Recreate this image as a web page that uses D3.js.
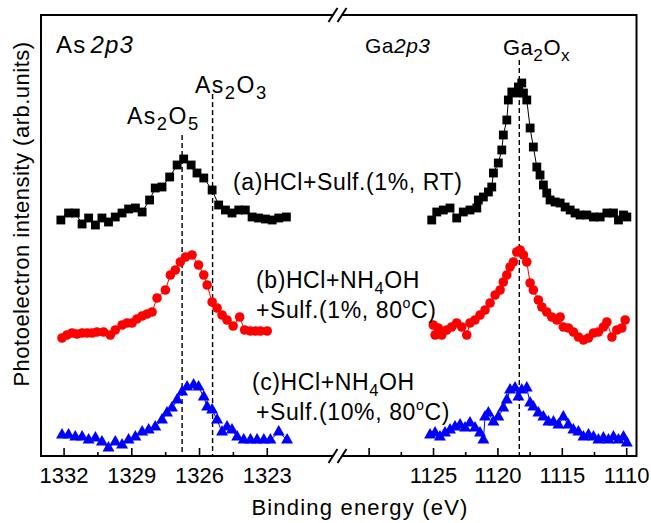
<!DOCTYPE html>
<html>
<head>
<meta charset="utf-8">
<script src="https://cdn.jsdelivr.net/npm/d3@7"></script>
<style>
  body { margin: 0; background: #fff; }
  svg { display: block; }
  text { font-family: "Liberation Sans", Arial, Helvetica, sans-serif; fill: #000; }
</style>
</head>
<body>
<svg id="chart" width="651" height="523"></svg>
<script>
// ---- As 2p3 region: binding energy (eV) and photoelectron intensity (arb. units) ----
const asEnergyA = [1332.12,1331.78,1331.48,1331.18,1330.89,1330.59,1330.30,1330.01,1329.71,1329.41,1329.12,1328.82,1328.52,1328.19,1327.94,1327.64,1327.30,1326.97,1326.68,1326.35,1326.09,1325.79,1325.42,1325.13,1324.83,1324.54,1324.24,1323.95,1323.65,1323.36,1323.06,1322.76,1322.47,1322.13];
const asIntensityA = [236,243,243,232,238,231,238,234,239,243,247,248,244,256,268,269,279,291,297,291,283,278,266,251,246,243,246,246,239,238,237,236,238,239];

const asEnergyB = [1332.07,1331.85,1331.63,1331.41,1331.18,1330.96,1330.74,1330.52,1330.23,1329.93,1329.71,1329.41,1329.19,1328.97,1328.75,1328.52,1328.30,1328.08,1327.86,1327.49,1327.27,1327.05,1326.83,1326.60,1326.31,1326.02,1325.79,1325.64,1325.42,1325.20,1324.98,1324.76,1324.49,1324.20,1323.98,1323.72,1323.50,1323.28,1322.98];
const asIntensityB = [118,121,123,122,123,123,123,124,124,121,126,131,133,133,137,140,142,144,158,166,181,186,194,199,201,191,181,171,154,148,141,136,130,139,126,125,125,125,125];

const asEnergyC = [1332.07,1331.78,1331.48,1331.18,1330.89,1330.59,1330.30,1330.01,1329.71,1329.41,1329.12,1328.82,1328.52,1328.23,1327.94,1327.64,1327.42,1327.20,1326.97,1326.75,1326.53,1326.24,1326.02,1325.79,1325.64,1325.42,1325.20,1324.98,1324.76,1324.54,1324.31,1324.02,1323.72,1323.43,1323.13,1322.84,1322.47,1322.10];
const asIntensityC = [21,21,19,19,16,18,14,8,14,11,16,19,24,26,29,36,43,48,56,64,69,71,69,59,49,46,36,24,29,26,19,16,16,16,16,16,24,16];

// ---- Ga 2p3 region ----
const gaEnergyA = [1125.10,1124.71,1124.20,1123.68,1123.16,1122.65,1122.13,1121.60,1121.48,1121.09,1120.70,1120.44,1120.31,1119.93,1119.66,1119.54,1119.27,1119.15,1118.88,1118.50,1118.37,1118.11,1117.98,1117.72,1117.46,1117.21,1116.94,1116.69,1116.43,1116.17,1115.91,1115.52,1115.13,1114.74,1114.35,1113.97,1113.58,1113.06,1112.54,1112.02,1111.50,1110.99,1110.60,1110.21,1109.95];
const gaIntensityA = [236,244,246,248,238,244,246,248,256,259,264,269,283,293,306,321,336,356,364,363,369,373,363,356,328,309,289,281,271,263,256,254,253,249,246,243,241,241,239,239,243,243,236,241,239];

const gaEnergyB = [1124.98,1124.84,1124.59,1124.32,1123.94,1123.55,1123.16,1122.77,1122.38,1122.13,1121.74,1121.35,1120.96,1120.57,1120.18,1119.79,1119.54,1119.27,1119.02,1118.76,1118.50,1118.24,1117.98,1117.72,1117.46,1117.21,1116.82,1116.55,1116.17,1115.78,1115.39,1115.13,1114.88,1114.49,1114.10,1113.71,1113.32,1112.93,1112.54,1112.16,1111.77,1111.50,1111.11,1110.73,1110.34,1110.08];
const gaIntensityB = [131,121,128,121,126,129,133,129,121,133,136,141,146,153,161,166,174,181,189,194,204,206,201,194,173,166,156,149,144,139,136,139,129,128,124,119,116,118,123,124,129,134,119,126,128,136];

const gaEnergyC = [1125.23,1124.84,1124.46,1124.07,1123.68,1123.29,1122.90,1122.51,1122.13,1121.74,1121.35,1121.09,1120.96,1120.70,1120.31,1119.93,1119.54,1119.27,1119.02,1118.63,1118.37,1118.11,1117.72,1117.46,1117.21,1116.82,1116.43,1116.04,1115.65,1115.26,1114.88,1114.49,1114.10,1113.71,1113.32,1112.93,1112.54,1112.16,1111.77,1111.38,1110.99,1110.60,1110.21,1109.95];
const gaIntensityC = [21,23,19,23,26,29,31,28,33,28,23,16,39,43,34,39,48,56,66,68,59,66,68,53,49,43,39,34,34,31,39,31,26,24,19,21,19,16,18,16,19,16,19,13];

// Chemical-state reference energies (eV)
const refNames = ["As2O5", "As2O3", "Ga2Ox"];
const refEnergies = [1326.75, 1325.4, 1118.3];

// Axis ticks
const asMajorTicks = [1332, 1329, 1326, 1323];
const asMinorTicks = [1330.5, 1327.5, 1324.5];
const gaMajorTicks = [1130, 1125, 1120, 1115, 1110];
const gaLabelledTicks = [1125, 1120, 1115, 1110];
const gaMinorTicks = [1127.5, 1122.5, 1117.5, 1112.5];

// ---- layout ----
const svg = d3.select("#chart");
const L = 41, R = 636.5, T = 15, B = 456, BRK = 338;

const xAs = d3.scaleLinear().domain([1333, 1319.8]).range([L, 339]);
const xGa = d3.scaleLinear().domain([1132.3, 1109.2]).range([339, R]);
const y = d3.scaleLinear().domain([0, 441]).range([B, T]);

const series = [
  { x: xAs, e: asEnergyA, v: asIntensityA, color: "#000000", shape: "square" },
  { x: xAs, e: asEnergyB, v: asIntensityB, color: "#ff0000", shape: "circle" },
  { x: xAs, e: asEnergyC, v: asIntensityC, color: "#0000ff", shape: "triangle" },
  { x: xGa, e: gaEnergyA, v: gaIntensityA, color: "#000000", shape: "square" },
  { x: xGa, e: gaEnergyB, v: gaIntensityB, color: "#ff0000", shape: "circle" },
  { x: xGa, e: gaEnergyC, v: gaIntensityC, color: "#0000ff", shape: "triangle" }
];

const symbolFor = {
  square: d3.symbol().type(d3.symbolSquare).size(78),
  circle: d3.symbol().type(d3.symbolCircle).size(72),
  triangle: d3.symbol().type(d3.symbolTriangle).size(62)
};

// dashed reference lines
const refX = [xAs(refEnergies[0]), xAs(refEnergies[1]), xGa(refEnergies[2])];
const refTop = [135, 94, 60];
svg.append("g").selectAll("line").data(refNames).join("line")
  .attr("x1", (d, i) => refX[i]).attr("x2", (d, i) => refX[i])
  .attr("y1", (d, i) => refTop[i]).attr("y2", B)
  .attr("stroke", "#000").attr("stroke-width", 1.4)
  .attr("stroke-dasharray", "5,3");

// spectra: thin connecting line plus markers
series.forEach(s => {
  const pts = s.e.map((e, i) => [e, s.v[i]]);
  const g = svg.append("g");
  g.append("path")
    .attr("d", d3.line().x(d => s.x(d[0])).y(d => y(d[1]))(pts))
    .attr("fill", "none").attr("stroke", s.color).attr("stroke-width", 1);
  g.selectAll("path.m").data(pts).join("path").attr("class", "m")
    .attr("transform", d => `translate(${s.x(d[0])},${y(d[1])})`)
    .attr("d", symbolFor[s.shape]())
    .attr("fill", s.color);
});

// ticks (pointing inward) and labels
function drawAxis(scale, major, labelled, minor) {
  const gMaj = svg.append("g").attr("transform", `translate(0,${B})`)
    .call(d3.axisBottom(scale).tickValues(major).tickSizeInner(-8).tickSizeOuter(0).tickPadding(11)
      .tickFormat(d => labelled.includes(d) ? d3.format("d")(d) : ""));
  gMaj.select(".domain").remove();
  gMaj.selectAll("line").attr("stroke-width", 1.6);
  gMaj.selectAll("text").style("font-size", "22px").attr("fill", "#000")
    .style("font-family", "'Liberation Sans', Arial, sans-serif");
  const gMin = svg.append("g").attr("transform", `translate(0,${B})`)
    .call(d3.axisBottom(scale).tickValues(minor).tickSizeInner(-4).tickSizeOuter(0).tickFormat(""));
  gMin.select(".domain").remove();
  gMin.selectAll("line").attr("stroke-width", 1.6);
}
drawAxis(xAs, asMajorTicks, asMajorTicks, asMinorTicks);
drawAxis(xGa, gaMajorTicks, gaLabelledTicks, gaMinorTicks);

// frame with broken-axis gaps
const frame = svg.append("g").attr("fill", "none").attr("stroke", "#000").attr("stroke-width", 2);
const gapL = BRK - 5, gapR = BRK + 4;
frame.append("path").attr("d", `M${gapL},${T}H${L}V${B}H${gapL}`);
frame.append("path").attr("d", `M${gapR},${T}H${R}V${B}H${gapR}`);
[T, B].forEach(yy => {
  [gapL, gapR].forEach(xx => {
    frame.append("line")
      .attr("x1", xx - 4.5).attr("y1", yy + 7)
      .attr("x2", xx + 4.5).attr("y2", yy - 7)
      .attr("stroke-width", 2);
  });
});

// axis titles
svg.append("text").attr("x", 360).attr("y", 515).attr("text-anchor", "middle")
  .style("font-size", "22px").style("letter-spacing", "1.2px").text("Binding energy (eV)");
svg.append("text").attr("transform", "translate(29,214) rotate(-90)").attr("text-anchor", "middle")
  .style("font-size", "22px").style("letter-spacing", "0.5px").text("Photoelectron intensity (arb.units)");

// helper for text made of runs (normal / subscript / superscript / italic)
function richText(x, yy, size, parts, spacing, subScale, italicGap) {
  const t = svg.append("text").attr("x", x).attr("y", yy).style("font-size", size + "px")
    .style("letter-spacing", (spacing || 0) + "px");
  let shift = 0;
  parts.forEach(p => {
    const kind = p[1] || "n";
    let target = 0, fs = size;
    if (kind === "sub") { target = size * 0.26; fs = size * (subScale || 0.72); }
    if (kind === "sup") { target = -size * 0.42; fs = size * 0.62; }
    const ts = t.append("tspan").attr("dy", target - shift).style("font-size", fs + "px").text(p[0]);
    if (kind === "i") ts.style("font-style", "italic").attr("dx", italicGap || 0);
    shift = target;
  });
  return t;
}

richText(56, 53, 24, [["As"], ["2p3", "i"]], 1.2, 0, 4);
richText(365, 53, 21, [["Ga"], ["2p3", "i"]], 0.5, 0, 0);
richText(503, 55, 22, [["Ga"], ["2", "sub"], ["O"], ["x", "sub"]], 0.5, 0.78);
richText(195, 93, 23, [["As"], ["2", "sub"], ["O"], ["3", "sub"]], 1.5, 0.8);
richText(127, 124, 23, [["As"], ["2", "sub"], ["O"], ["5", "sub"]], 1.5, 0.8);

richText(233, 190, 23, [["(a)HCl+Sulf.(1%, RT)"]], 0.6);
richText(256, 288, 23, [["(b)HCl+NH"], ["4", "sub"], ["OH"]], 0.6);
richText(256, 318, 23, [["+Sulf.(1%, 80"], ["o", "sup"], ["C)"]], 0.6);
richText(252, 390, 23, [["(c)HCl+NH"], ["4", "sub"], ["OH"]], 0.6);
richText(256, 420, 23, [["+Sulf.(10%, 80"], ["o", "sup"], ["C)"]], 0.6);
</script>
</body>
</html>
